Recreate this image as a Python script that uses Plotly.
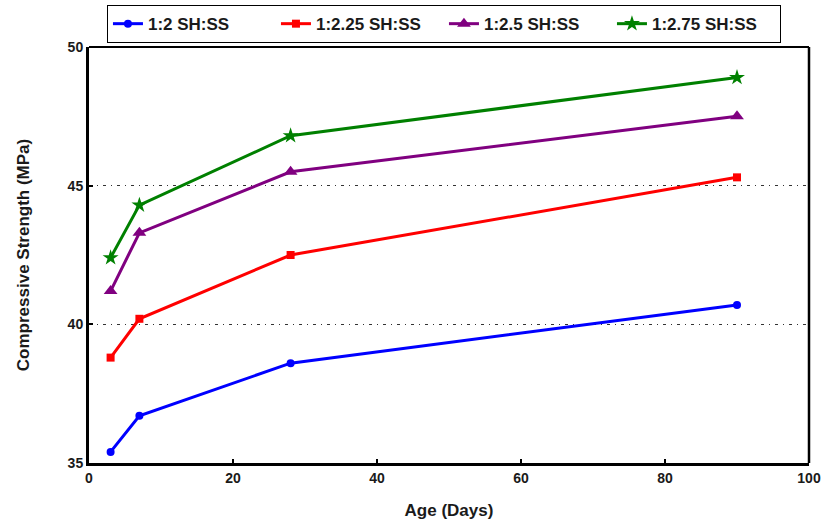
import plotly.graph_objects as go

# Curing age (days) and compressive strength (MPa) per SH:SS ratio
age_days = [3, 7, 28, 90]
series_names = ["1:2 SH:SS", "1:2.25 SH:SS", "1:2.5 SH:SS", "1:2.75 SH:SS"]
strength_1_2 = [35.4, 36.7, 38.6, 40.7]
strength_1_225 = [38.8, 40.2, 42.5, 45.3]
strength_1_25 = [41.2, 43.3, 45.5, 47.5]
strength_1_275 = [42.4, 44.3, 46.8, 48.9]

x_ticks = [0, 20, 40, 60, 80, 100]
y_ticks = [35, 40, 45, 50]

FONT = "Liberation Sans Narrow, Arial Narrow, Liberation Sans, Arial, sans-serif"
TEXT = "#1a1a1a"

styles = [
    ("#0000ff", "circle", 8),
    ("#ff0000", "square", 8),
    ("#800080", "triangle-up", 12),
    ("#008000", "star", 12),
]
values = [strength_1_2, strength_1_225, strength_1_25, strength_1_275]

fig = go.Figure()
for name, ys, (color, symbol, size) in zip(series_names, values, styles):
    fig.add_trace(go.Scatter(
        x=age_days, y=ys, name=name, mode="lines+markers",
        line=dict(color=color, width=3),
        marker=dict(color=color, symbol=symbol, size=size, line=dict(width=0)),
    ))

# thinner top and right frame lines
fig.add_shape(type="line", xref="paper", yref="paper", x0=0, x1=1, y0=1, y1=1,
              line=dict(color="black", width=2))
fig.add_shape(type="line", xref="paper", yref="paper", x0=1, x1=1, y0=0, y1=1,
              line=dict(color="black", width=2.5))

fig.update_layout(
    width=822, height=525,
    paper_bgcolor="white", plot_bgcolor="white",
    margin=dict(l=89, r=13, t=47, b=62, autoexpand=False),
    font=dict(family=FONT, size=14, color=TEXT),
    showlegend=True,
    legend=dict(
        orientation="h", x=0.493, xanchor="center", y=1.055, yanchor="middle",
        bordercolor="black", borderwidth=1, bgcolor="white",
        font=dict(family=FONT, size=17, color=TEXT, weight="bold"),
        tracegroupgap=0, entrywidth=123, entrywidthmode="pixels",
    ),
    xaxis=dict(
        range=[0, 100], tickvals=x_ticks, ticks="inside", ticklen=4,
        tickcolor="black", tickwidth=2, ticklabeloverflow="allow",
        showline=True, linecolor="black", linewidth=3, mirror=False,
        showgrid=False, zeroline=False,
        tickfont=dict(family=FONT, size=14, color=TEXT, weight="bold"),
        title=dict(text="Age (Days)", standoff=20,
                   font=dict(family=FONT, size=17, color=TEXT, weight="bold")),
    ),
    yaxis=dict(
        range=[35, 50], tickvals=y_ticks, ticks="inside", ticklen=4,
        tickcolor="black", tickwidth=2,
        showline=True, linecolor="black", linewidth=3, mirror=False,
        showgrid=True, gridcolor="#333", griddash="3px,5px,1px,5px", gridwidth=1,
        zeroline=False,
        tickfont=dict(family=FONT, size=14, color=TEXT, weight="bold"),
        title=dict(text="Compressive Strength (MPa)", standoff=34,
                   font=dict(family=FONT, size=17, color=TEXT, weight="bold")),
    ),
)

fig.write_html("out.html")
